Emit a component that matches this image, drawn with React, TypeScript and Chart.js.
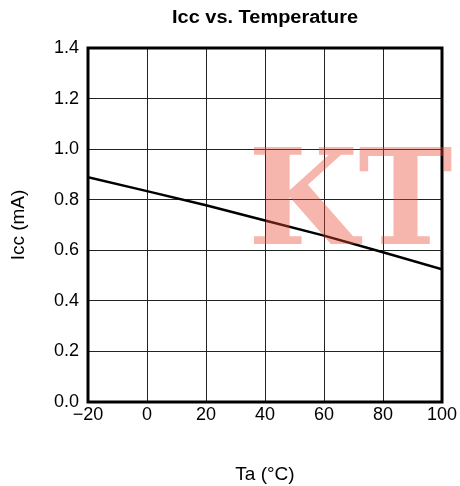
import React, { useEffect, useRef } from "react";
import { Chart, registerables } from "chart.js";

Chart.register(...registerables);

const chartTitle = "Icc vs. Temperature";
const xAxisTitle = "Ta (\u00B0C)";
const yAxisTitle = "Icc (mA)";
const watermark = "KT";

const temperatures = [-20, 0, 20, 40, 60, 80, 100];
const iccValues = [0.889, 0.834, 0.778, 0.718, 0.658, 0.592, 0.525];

const xTickValues = [-20, 0, 20, 40, 60, 80, 100];
const xTickLabels = ["\u221220", "0", "20", "40", "60", "80", "100"];
const yTickValues = [0, 0.2, 0.4, 0.6, 0.8, 1.0, 1.2, 1.4];
const yTickLabels = ["0.0", "0.2", "0.4", "0.6", "0.8", "1.0", "1.2", "1.4"];

const FONT = "'Liberation Sans', Arial, Helvetica, sans-serif";

const decorPlugin = {
  id: "decor",
  afterDraw(chart: any) {
    const { ctx, chartArea } = chart;
    const { left, right, top, bottom } = chartArea;
    ctx.save();
    // frame
    ctx.strokeStyle = "#000";
    ctx.lineWidth = 3;
    ctx.strokeRect(left, top, right - left, bottom - top);

    // title, centred over the plot area
    ctx.fillStyle = "#000";
    ctx.font = `bold 18px ${FONT}`;
    ctx.textAlign = "center";
    ctx.textBaseline = "alphabetic";
    const tw = ctx.measureText(chartTitle).width;
    const targetW = 186;
    const cx = (left + right) / 2;
    ctx.save();
    ctx.translate(cx, 23);
    ctx.scale(targetW / tw, 1);
    ctx.fillText(chartTitle, 0, 0);
    ctx.restore();

    // watermark, fitted to its box
    ctx.font = `bold 100px 'DejaVu Serif', 'Liberation Serif', serif`;
    ctx.textAlign = "left";
    ctx.textBaseline = "alphabetic";
    const m = ctx.measureText(watermark);
    const gl = -m.actualBoundingBoxLeft;
    const gr = m.actualBoundingBoxRight;
    const gt = -m.actualBoundingBoxAscent;
    const gb = m.actualBoundingBoxDescent;
    const boxL = 253, boxR = 452, boxT = 147, boxB = 244;
    const sx = (boxR - boxL) / (gr - gl);
    const sy = (boxB - boxT) / (gb - gt);
    ctx.translate(boxL - gl * sx, boxT - gt * sy);
    ctx.scale(sx, sy);
    ctx.fillStyle = "rgba(232, 72, 52, 0.4)";
    ctx.fillText(watermark, 0, 0);
    ctx.restore();
  },
};

export default function App() {
  const canvasRef = useRef<HTMLCanvasElement | null>(null);

  useEffect(() => {
    const canvas = canvasRef.current;
    if (!canvas) return;
    const chart = new Chart(canvas, {
      type: "line",
      data: {
        datasets: [
          {
            data: temperatures.map((t, i) => ({ x: t, y: iccValues[i] })),
            borderColor: "#000",
            borderWidth: 2.5,
            pointRadius: 0,
            fill: false,
            tension: 0,
          },
        ],
      },
      options: {
        animation: false,
        responsive: false,
        maintainAspectRatio: false,
        layout: { padding: { left: 0, top: 48, right: 18, bottom: 0 } },
        plugins: {
          legend: { display: false },
          tooltip: { enabled: false },
          title: { display: false },
        },
        scales: {
          x: {
            type: "linear",
            min: -20,
            max: 100,
            afterBuildTicks: (scale: any) => {
              scale.ticks = xTickValues.map((v) => ({ value: v }));
            },
            afterFit: (scale: any) => {
              scale.height = 84;
            },
            ticks: {
              padding: 2,
              color: "#000",
              font: { family: FONT, size: 18 },
              maxRotation: 0,
              autoSkip: false,
              callback: (v: any) => {
                const i = xTickValues.indexOf(Number(v));
                return i >= 0 ? xTickLabels[i] : "";
              },
            },
            grid: { color: "#222", lineWidth: 1, drawTicks: false },
            border: { display: false },
            title: {
              display: true,
              text: xAxisTitle,
              color: "#000",
              font: { family: FONT, size: 19 },
              padding: { top: 0, bottom: 0 },
            },
          },
          y: {
            type: "linear",
            min: 0,
            max: 1.4,
            afterBuildTicks: (scale: any) => {
              scale.ticks = yTickValues.map((v) => ({ value: v }));
            },
            afterFit: (scale: any) => {
              scale.width = 88;
            },
            ticks: {
              padding: 9,
              color: "#000",
              font: { family: FONT, size: 18 },
              autoSkip: false,
              callback: (v: any) => {
                const i = yTickValues.findIndex((t) => Math.abs(t - Number(v)) < 1e-6);
                return i >= 0 ? yTickLabels[i] : "";
              },
            },
            grid: { color: "#222", lineWidth: 1, drawTicks: false },
            border: { display: false },
            title: {
              display: true,
              text: yAxisTitle,
              color: "#000",
              font: { family: FONT, size: 19 },
              padding: { top: 7, bottom: 0 },
            },
          },
        },
      },
      plugins: [decorPlugin],
    });
    return () => chart.destroy();
  }, []);

  return (
    <div style={{ position: "absolute", left: 0, top: 0, width: 460, height: 486, background: "#fff" }}>
      <canvas ref={canvasRef} width={460} height={486} style={{ width: 460, height: 486 }} />
    </div>
  );
}
